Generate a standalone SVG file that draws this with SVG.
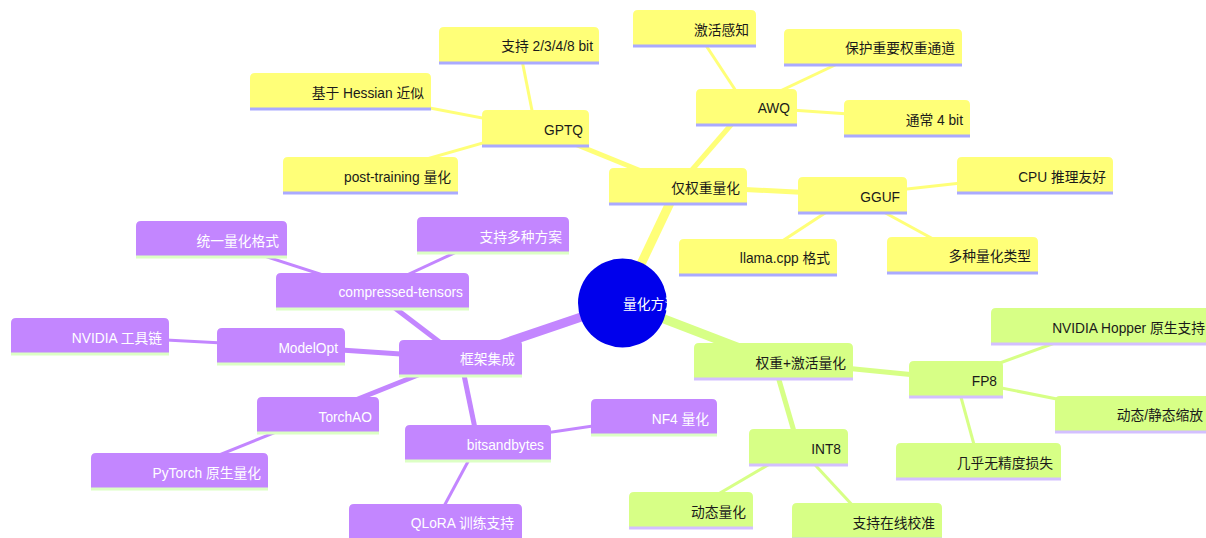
<svg xmlns="http://www.w3.org/2000/svg" width="1206" height="538" viewBox="0 0 1206 538">
  <defs>
    <style>
      text { font-family: "Liberation Sans", Arial, "Noto Sans CJK SC", sans-serif; font-size: 13.75px; text-anchor: end; }
      .edge { fill: none; stroke-linecap: butt; }
      .e-y { stroke: #ffff78; }
      .e-p { stroke: #c386ff; }
      .e-g { stroke: #d7ff86; }
      .d0 { stroke-width: 9; }
      .d1 { stroke-width: 5; }
      .d2 { stroke-width: 3; }
      .sec-y path { fill: #ffff78; }
      .sec-y line { stroke: #aaaaff; stroke-width: 3; }
      .sec-y text { fill: #1a1a1a; }
      .sec-p path { fill: #c386ff; }
      .sec-p line { stroke: #dcffc4; stroke-width: 3; }
      .sec-p text { fill: #ffffff; }
      .sec-g path { fill: #d7ff86; }
      .sec-g line { stroke: #d3c0ff; stroke-width: 3; }
      .sec-g text { fill: #1a1a1a; }
      .root circle { fill: #0000ec; }
      .root text { fill: #ffffff; text-anchor: start; }
    </style>
  </defs>
  <rect width="1206" height="538" fill="#ffffff"/>

  <!-- connectors: centre to centre, drawn beneath the nodes -->
  <g id="connectors">
    <line class="edge e-y d0" x1="622.5" y1="303" x2="678" y2="186"/>
    <line class="edge e-g d0" x1="622.5" y1="303" x2="773.5" y2="361"/>
    <line class="edge e-p d0" x1="622.5" y1="303" x2="460.5" y2="358"/>

    <line class="edge e-y d1" x1="678" y1="186" x2="535.5" y2="128"/>
    <line class="edge e-y d1" x1="678" y1="186" x2="746.5" y2="107"/>
    <line class="edge e-y d1" x1="678" y1="186" x2="852.5" y2="195"/>
    <line class="edge e-y d2" x1="535.5" y1="128" x2="519" y2="45"/>
    <line class="edge e-y d2" x1="535.5" y1="128" x2="340.5" y2="91"/>
    <line class="edge e-y d2" x1="535.5" y1="128" x2="370.5" y2="175"/>
    <line class="edge e-y d2" x1="746.5" y1="107" x2="694.5" y2="28"/>
    <line class="edge e-y d2" x1="746.5" y1="107" x2="873" y2="47"/>
    <line class="edge e-y d2" x1="746.5" y1="107" x2="907" y2="118"/>
    <line class="edge e-y d2" x1="852.5" y1="195" x2="1035" y2="175"/>
    <line class="edge e-y d2" x1="852.5" y1="195" x2="758" y2="257"/>
    <line class="edge e-y d2" x1="852.5" y1="195" x2="962.5" y2="255"/>

    <line class="edge e-g d1" x1="773.5" y1="361" x2="956" y2="379"/>
    <line class="edge e-g d1" x1="773.5" y1="361" x2="798.5" y2="447"/>
    <line class="edge e-g d2" x1="956" y1="379" x2="1101.5" y2="326"/>
    <line class="edge e-g d2" x1="956" y1="379" x2="1132.5" y2="414"/>
    <line class="edge e-g d2" x1="956" y1="379" x2="978.5" y2="461"/>
    <line class="edge e-g d2" x1="798.5" y1="447" x2="691" y2="510"/>
    <line class="edge e-g d2" x1="798.5" y1="447" x2="867" y2="521"/>

    <line class="edge e-p d1" x1="460.5" y1="358" x2="372.5" y2="291"/>
    <line class="edge e-p d1" x1="460.5" y1="358" x2="281" y2="346"/>
    <line class="edge e-p d1" x1="460.5" y1="358" x2="318" y2="415"/>
    <line class="edge e-p d1" x1="460.5" y1="358" x2="478" y2="443"/>
    <line class="edge e-p d2" x1="372.5" y1="291" x2="211.5" y2="239"/>
    <line class="edge e-p d2" x1="372.5" y1="291" x2="493" y2="235"/>
    <line class="edge e-p d2" x1="281" y1="346" x2="90" y2="336"/>
    <line class="edge e-p d2" x1="318" y1="415" x2="179.5" y2="471"/>
    <line class="edge e-p d2" x1="478" y1="443" x2="654" y2="417"/>
    <line class="edge e-p d2" x1="478" y1="443" x2="435.5" y2="522"/>
  </g>

  <!-- root -->
  <g id="root" class="root">
    <circle cx="622.5" cy="303" r="44.5"/>
    <text x="623" y="309">量化方法</text>
  </g>

  <!-- weight-only branch -->
  <g id="weight-only" class="sec-y" transform="translate(609 168)">
    <path d="M0 36V5Q0 0 5 0H133Q138 0 138 5V36Z"/><line x1="0" y1="36" x2="138" y2="36"/>
    <text x="131" y="25">仅权重量化</text>
  </g>
  <g id="gptq" class="sec-y" transform="translate(482 110)">
    <path d="M0 36V5Q0 0 5 0H102Q107 0 107 5V36Z"/><line x1="0" y1="36" x2="107" y2="36"/>
    <text x="101" y="25">GPTQ</text>
  </g>
  <g id="gptq-bits" class="sec-y" transform="translate(439 27)">
    <path d="M0 36V5Q0 0 5 0H155Q160 0 160 5V36Z"/><line x1="0" y1="36" x2="160" y2="36"/>
    <text x="154" y="24">支持 2/3/4/8 bit</text>
  </g>
  <g id="gptq-hessian" class="sec-y" transform="translate(250 73)">
    <path d="M0 36V5Q0 0 5 0H176Q181 0 181 5V36Z"/><line x1="0" y1="36" x2="181" y2="36"/>
    <text x="174" y="25">基于 Hessian 近似</text>
  </g>
  <g id="gptq-ptq" class="sec-y" transform="translate(283 157)">
    <path d="M0 36V5Q0 0 5 0H170Q175 0 175 5V36Z"/><line x1="0" y1="36" x2="175" y2="36"/>
    <text x="168" y="25">post-training 量化</text>
  </g>
  <g id="awq" class="sec-y" transform="translate(696 89)">
    <path d="M0 36V5Q0 0 5 0H96Q101 0 101 5V36Z"/><line x1="0" y1="36" x2="101" y2="36"/>
    <text x="94" y="24">AWQ</text>
  </g>
  <g id="awq-act" class="sec-y" transform="translate(633 10)">
    <path d="M0 36V5Q0 0 5 0H118Q123 0 123 5V36Z"/><line x1="0" y1="36" x2="123" y2="36"/>
    <text x="116" y="25">激活感知</text>
  </g>
  <g id="awq-channels" class="sec-y" transform="translate(784 29)">
    <path d="M0 36V5Q0 0 5 0H173Q178 0 178 5V36Z"/><line x1="0" y1="36" x2="178" y2="36"/>
    <text x="171" y="24">保护重要权重通道</text>
  </g>
  <g id="awq-4bit" class="sec-y" transform="translate(844 100)">
    <path d="M0 36V5Q0 0 5 0H121Q126 0 126 5V36Z"/><line x1="0" y1="36" x2="126" y2="36"/>
    <text x="119" y="25">通常 4 bit</text>
  </g>
  <g id="gguf" class="sec-y" transform="translate(798 177)">
    <path d="M0 36V5Q0 0 5 0H104Q109 0 109 5V36Z"/><line x1="0" y1="36" x2="109" y2="36"/>
    <text x="102" y="25">GGUF</text>
  </g>
  <g id="gguf-cpu" class="sec-y" transform="translate(957 157)">
    <path d="M0 36V5Q0 0 5 0H151Q156 0 156 5V36Z"/><line x1="0" y1="36" x2="156" y2="36"/>
    <text x="149" y="25">CPU 推理友好</text>
  </g>
  <g id="gguf-llama" class="sec-y" transform="translate(679 239)">
    <path d="M0 36V5Q0 0 5 0H153Q158 0 158 5V36Z"/><line x1="0" y1="36" x2="158" y2="36"/>
    <text x="151" y="24">llama.cpp 格式</text>
  </g>
  <g id="gguf-types" class="sec-y" transform="translate(887 237)">
    <path d="M0 36V5Q0 0 5 0H146Q151 0 151 5V36Z"/><line x1="0" y1="36" x2="151" y2="36"/>
    <text x="144" y="24">多种量化类型</text>
  </g>

  <!-- framework branch -->
  <g id="frameworks" class="sec-p" transform="translate(399 340)">
    <path d="M0 36V5Q0 0 5 0H118Q123 0 123 5V36Z"/><line x1="0" y1="36" x2="123" y2="36"/>
    <text x="116" y="24">框架集成</text>
  </g>
  <g id="compressed-tensors" class="sec-p" transform="translate(276 273)">
    <path d="M0 36V5Q0 0 5 0H188Q193 0 193 5V36Z"/><line x1="0" y1="36" x2="193" y2="36"/>
    <text x="187" y="24">compressed-tensors</text>
  </g>
  <g id="ct-format" class="sec-p" transform="translate(136 221)">
    <path d="M0 36V5Q0 0 5 0H146Q151 0 151 5V36Z"/><line x1="0" y1="36" x2="151" y2="36"/>
    <text x="143" y="25">统一量化格式</text>
  </g>
  <g id="ct-schemes" class="sec-p" transform="translate(417 217)">
    <path d="M0 36V5Q0 0 5 0H147Q152 0 152 5V36Z"/><line x1="0" y1="36" x2="152" y2="36"/>
    <text x="145" y="25">支持多种方案</text>
  </g>
  <g id="modelopt" class="sec-p" transform="translate(217 328)">
    <path d="M0 36V5Q0 0 5 0H123Q128 0 128 5V36Z"/><line x1="0" y1="36" x2="128" y2="36"/>
    <text x="121" y="25">ModelOpt</text>
  </g>
  <g id="modelopt-nvidia" class="sec-p" transform="translate(11 318)">
    <path d="M0 36V5Q0 0 5 0H153Q158 0 158 5V36Z"/><line x1="0" y1="36" x2="158" y2="36"/>
    <text x="151" y="25">NVIDIA 工具链</text>
  </g>
  <g id="torchao" class="sec-p" transform="translate(257 397)">
    <path d="M0 36V5Q0 0 5 0H117Q122 0 122 5V36Z"/><line x1="0" y1="36" x2="122" y2="36"/>
    <text x="115" y="25">TorchAO</text>
  </g>
  <g id="torchao-native" class="sec-p" transform="translate(91 453)">
    <path d="M0 36V5Q0 0 5 0H172Q177 0 177 5V36Z"/><line x1="0" y1="36" x2="177" y2="36"/>
    <text x="170" y="25">PyTorch 原生量化</text>
  </g>
  <g id="bitsandbytes" class="sec-p" transform="translate(405 425)">
    <path d="M0 36V5Q0 0 5 0H141Q146 0 146 5V36Z"/><line x1="0" y1="36" x2="146" y2="36"/>
    <text x="139" y="25">bitsandbytes</text>
  </g>
  <g id="bnb-nf4" class="sec-p" transform="translate(591 399)">
    <path d="M0 36V5Q0 0 5 0H121Q126 0 126 5V36Z"/><line x1="0" y1="36" x2="126" y2="36"/>
    <text x="118" y="25">NF4 量化</text>
  </g>
  <g id="bnb-qlora" class="sec-p" transform="translate(349 504)">
    <path d="M0 36V5Q0 0 5 0H168Q173 0 173 5V36Z"/><line x1="0" y1="36" x2="173" y2="36"/>
    <text x="165" y="24">QLoRA 训练支持</text>
  </g>

  <!-- weight + activation branch -->
  <g id="weight-activation" class="sec-g" transform="translate(694 343)">
    <path d="M0 36V5Q0 0 5 0H154Q159 0 159 5V36Z"/><line x1="0" y1="36" x2="159" y2="36"/>
    <text x="152" y="25">权重+激活量化</text>
  </g>
  <g id="fp8" class="sec-g" transform="translate(909 361)">
    <path d="M0 36V5Q0 0 5 0H89Q94 0 94 5V36Z"/><line x1="0" y1="36" x2="94" y2="36"/>
    <text x="88" y="25">FP8</text>
  </g>
  <g id="fp8-hopper" class="sec-g" transform="translate(991 308)">
    <path d="M0 36V5Q0 0 5 0H216Q221 0 221 5V36Z"/><line x1="0" y1="36" x2="221" y2="36"/>
    <text x="214" y="25">NVIDIA Hopper 原生支持</text>
  </g>
  <g id="fp8-scaling" class="sec-g" transform="translate(1055 396)">
    <path d="M0 36V5Q0 0 5 0H150Q155 0 155 5V36Z"/><line x1="0" y1="36" x2="155" y2="36"/>
    <text x="148" y="24">动态/静态缩放</text>
  </g>
  <g id="fp8-accuracy" class="sec-g" transform="translate(896 443)">
    <path d="M0 36V5Q0 0 5 0H160Q165 0 165 5V36Z"/><line x1="0" y1="36" x2="165" y2="36"/>
    <text x="157" y="25">几乎无精度损失</text>
  </g>
  <g id="int8" class="sec-g" transform="translate(749 429)">
    <path d="M0 36V5Q0 0 5 0H94Q99 0 99 5V36Z"/><line x1="0" y1="36" x2="99" y2="36"/>
    <text x="92" y="25">INT8</text>
  </g>
  <g id="int8-dynamic" class="sec-g" transform="translate(629 492)">
    <path d="M0 36V5Q0 0 5 0H119Q124 0 124 5V36Z"/><line x1="0" y1="36" x2="124" y2="36"/>
    <text x="117" y="25">动态量化</text>
  </g>
  <g id="int8-calibration" class="sec-g" transform="translate(792 503)">
    <path d="M0 36V5Q0 0 5 0H145Q150 0 150 5V36Z"/><line x1="0" y1="36" x2="150" y2="36"/>
    <text x="143" y="25">支持在线校准</text>
  </g>
</svg>
